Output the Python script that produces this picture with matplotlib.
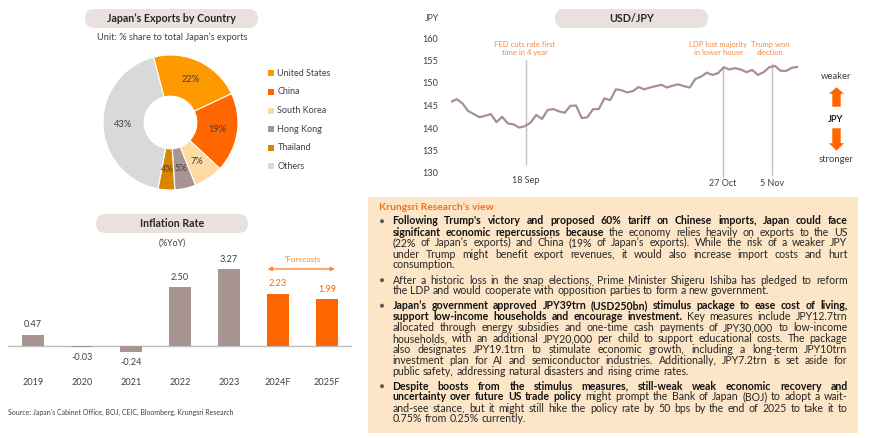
import matplotlib
matplotlib.use("Agg")
import matplotlib.pyplot as plt
from matplotlib.patches import FancyBboxPatch, Rectangle, Circle, FancyArrow

plt.rcParams["font.family"] = ["Lato", "DejaVu Sans"]

# ---- data ----
export_countries = ["United States", "China", "South Korea", "Hong Kong", "Thailand", "Others"]
export_share = [22, 19, 7, 5, 4, 43]
export_colors = ["#FF9900", "#FF6600", "#FFDBA3", "#A89494", "#D98500", "#D9D9D9"]

usdjpy = [145.8, 146.4, 145.5, 143.8, 143.1, 142.4, 142.7, 143.1, 141.3, 142.5,
          141.0, 140.8, 140.1, 140.4, 141.2, 142.9, 142.0, 144.0, 144.2, 143.7,
          143.4, 144.9, 145.0, 142.2, 142.4, 144.2, 144.2, 146.6, 146.2, 148.6,
          148.4, 147.9, 148.2, 149.1, 148.6, 149.0, 149.3, 149.6, 149.0, 149.4,
          149.7, 149.3, 149.0, 150.9, 151.4, 152.3, 151.8, 152.2, 153.5, 153.0,
          153.3, 153.0, 152.4, 152.9, 151.8, 152.4, 153.5, 153.8, 152.7, 152.7,
          153.4, 153.6]
event_dates = ["18 Sep", "27 Oct", "5 Nov"]
event_pos = [13.2, 47.85, 56.5]
event_notes = ["FED cuts rate first\ntime in 4 year", "LDP lost majority\nin lower house", "Trump won\nelection"]
note_pos = [13.0, 47.0, 56.1]

infl_years = ["2019", "2020", "2021", "2022", "2023", "2024F", "2025F"]
infl_values = [0.47, -0.03, -0.24, 2.50, 3.27, 2.23, 1.99]
infl_forecast = [False, False, False, False, False, True, True]

view_title = "Krungsri Research\u2019s view"
view_paras = [
    ["**Following Trump's victory and proposed 60% tariff on Chinese imports, Japan could face**",
     "**significant economic repercussions because** the economy relies heavily on exports to the US",
     "(22% of Japan\u2019s exports) and China (19% of Japan\u2019s exports). While the risk of a weaker JPY",
     "under Trump might benefit export revenues, it would also increase import costs and hurt",
     "consumption."],
    ["After a historic loss in the snap elections, Prime Minister Shigeru Ishiba has pledged to reform",
     "the LDP and would cooperate with opposition parties to form a new government."],
    ["**Japan\u2019s government approved JPY39trn (USD250bn) stimulus package to ease cost of living,**",
     "**support low-income households and encourage investment.** Key measures include JPY12.7trn",
     "allocated through energy subsidies and one-time cash payments of JPY30,000 to low-income",
     "households, with an additional JPY20,000 per child to support educational costs. The package",
     "also designates JPY19.1trn to stimulate economic growth, including a long-term JPY10trn",
     "investment plan for AI and semiconductor industries. Additionally, JPY7.2trn is set aside for",
     "public safety, addressing natural disasters and rising crime rates."],
    ["**Despite boosts from the stimulus measures, still-weak weak economic recovery and**",
     "**uncertainty over future US trade policy** might prompt the Bank of Japan (BOJ) to adopt a wait-",
     "and-see stance, but it might still hike the policy rate by 50 bps by the end of 2025 to take it to",
     "0.75% from 0.25% currently."],
]
para_baselines = [224.5, 283.5, 309.0, 389.5]

source = "Source: Japan\u2019s Cabinet Office, BOJ, CEIC, Bloomberg, Krungsri Research"

# ---- figure ----
W, H = 870, 438
fig = plt.figure(figsize=(W / 100, H / 100), dpi=100)
bg = fig.add_axes([0, 0, 1, 1])
bg.set_xlim(0, W)
bg.set_ylim(H, 0)
bg.axis("off")


def px_axes(x0, y0, x1, y1):
    a = fig.add_axes([x0 / W, 1 - y1 / H, (x1 - x0) / W, (y1 - y0) / H])
    a.patch.set_alpha(0)
    return a


def pill(xc, yc, w, h, label):
    bg.add_patch(FancyBboxPatch((xc - w / 2, yc - h / 2), w, h,
                                boxstyle=f"round,pad=0,rounding_size={h / 2}",
                                fc="#EAE0DE", ec="none"))
    bg.text(xc, yc, label, ha="center", va="center", fontsize=7.7,
            fontweight="bold", color="#262626")


dark = "#404040"
orange = "#FF6600"
note_orange = "#F7893F"

# exports donut
pill(171.5, 18.5, 173, 19, "Japan\u2019s Exports by Country")
bg.text(172, 37, "Unit: % share to total Japan\u2019s exports", ha="center", va="center",
        fontsize=6.7, color=dark)
pax = px_axes(103, 55, 238, 190)
pax.pie(export_share, colors=export_colors, startangle=104.5, counterclock=False,
        wedgeprops=dict(width=0.61, edgecolor="white", linewidth=0.8),
        autopct=lambda p: f"{p:.0f}%", pctdistance=0.7,
        textprops=dict(fontsize=6.7, color=dark))
pax.set_xlim(-1, 1)
pax.set_ylim(-1, 1)
for i, (name, col) in enumerate(zip(export_countries, export_colors)):
    y = 73.3 + i * 18.6
    bg.add_patch(Rectangle((268.5, y - 3), 6, 6, fc=col, ec="none"))
    bg.text(277.5, y, name, va="center", fontsize=6.5, color=dark)

# USD/JPY
pill(631.5, 18.5, 153, 19, "USD/JPY")
bg.text(432, 18.3, "JPY", ha="center", va="center", fontsize=6.3, color=dark)
lax = px_axes(451, 38, 797.7, 173)
lax.plot(range(len(usdjpy)), usdjpy, color="#A8908C", lw=1.6, zorder=3)
lax.set_xlim(0, len(usdjpy) - 1)
lax.set_ylim(130, 160)
lax.set_yticks(range(130, 161, 5))
lax.set_xticks([])
lax.tick_params(axis="y", length=0, pad=9.4, labelsize=6.6, labelcolor=dark)
for s in lax.spines.values():
    s.set_visible(False)
line_top = [155.1, 153.6, 154.4]
line_bot = [131.8, 128.9, 129.6]
label_y = [128.4, 127.6, 127.6]
for x, lo, hi, ly, d in zip(event_pos, line_bot, line_top, label_y, event_dates):
    lax.vlines(x, lo, hi, color="#C8BEBC", lw=1, clip_on=False, zorder=2)
    lax.text(x, ly, d, ha="center", va="center", fontsize=6.5, color=dark)
for x, n in zip(note_pos, event_notes):
    lax.text(x, 157.7, n, ha="center", va="center", fontsize=5.5, color=note_orange,
             linespacing=1.15)

bg.text(836, 76.7, "weaker", ha="center", va="center", fontsize=6.8, color=dark)
bg.text(836, 120, "JPY", ha="center", va="center", fontsize=6.6, fontweight="bold", color="#1a1a1a")
bg.text(836, 159.5, "stronger", ha="center", va="center", fontsize=6.8, color=dark)
bg.add_patch(FancyArrow(836.5, 106.7, 0, -19.4, width=8.4, head_width=15.3, head_length=6.5,
                        length_includes_head=True, fc=orange, ec="none"))
bg.add_patch(FancyArrow(836.5, 128.3, 0, 22.4, width=8.4, head_width=15.3, head_length=7.5,
                        length_includes_head=True, fc=orange, ec="none"))

# inflation bars
pill(172, 223.5, 152, 19, "Inflation Rate")
bg.text(172, 243, "(%YoY)", ha="center", va="center", fontsize=6.3, color=dark)
ppu = 23.5
bax = px_axes(8, 260, 352, 370)
bax.set_xlim(-0.51, 6.51)
bax.set_ylim(-(370 - 346) / ppu, (346 - 260) / ppu)
bar_cols = [orange if f else "#A89490" for f in infl_forecast]
bax.bar(range(len(infl_values)), infl_values, width=0.45, color=bar_cols, zorder=2)
bax.axhline(0, color="#BFBFBF", lw=1, zorder=1)
for i, (v, f) in enumerate(zip(infl_values, infl_forecast)):
    off = 10 if v >= 0 else -10.5
    bax.annotate(f"{v:.2f}", (i, v), xytext=(0, off), textcoords="offset pixels",
                 ha="center", va="center", fontsize=6.6,
                 color=orange if f else dark)
bax.set_xticks(range(len(infl_years)), infl_years)
bax.set_yticks([])
bax.tick_params(axis="x", length=0, pad=6.0, labelsize=6.6, labelcolor=dark)
for s in bax.spines.values():
    s.set_visible(False)
bax.annotate("", xy=(6.22, 3.28), xytext=(4.73, 3.28),
             arrowprops=dict(arrowstyle="<|-|>", color=note_orange, lw=1, mutation_scale=6),
             annotation_clip=False)
bax.text(5.49, (346 - 259) / ppu, "*Forecasts", ha="center", va="center", fontsize=5.8,
         color=note_orange)

bg.text(8, 412, source, ha="left", va="center", fontsize=5.0, color=dark)

# view box
bg.add_patch(Rectangle((368, 197), 490, 236, fc="#FDE6C8", ec="none"))
bg.text(379.3, 210.5, view_title, fontsize=7.4, fontweight="bold", color="#F2711C",
        va="baseline")

renderer = fig.canvas.get_renderer()


def tw(s, bold, fs):
    t = bg.text(0, 0, s, fontsize=fs, fontweight="bold" if bold else "normal")
    w = t.get_window_extent(renderer).width
    t.remove()
    return w


def tokens(line):
    out = []
    for k, seg in enumerate(line.split("**")):
        for w in seg.split():
            out.append((w, k % 2 == 1))
    return out


left, right = 392.5, 847.5
fs = 7.6
# shrink until every justified line fits with spaces squeezed to at most 55%
while True:
    sp = tw("x x", False, fs) - tw("xx", False, fs)
    widest = 0
    for para in view_paras:
        for ln in para[:-1]:
            tk = tokens(ln)
            widest = max(widest, sum(tw(w, b, fs) for w, b in tk) + 0.55 * sp * (len(tk) - 1))
    if widest <= right - left or fs < 5:
        break
    fs -= 0.1

for para, base in zip(view_paras, para_baselines):
    bg.add_patch(Circle((382, base - 3.3), 2.0, fc="#595959", ec="none"))
    for j, ln in enumerate(para):
        y = base + j * 11.0
        tk = tokens(ln)
        widths = [tw(w, b, fs) for w, b in tk]
        last = j == len(para) - 1
        gap = sp if last or len(tk) < 2 else (right - left - sum(widths)) / (len(tk) - 1)
        x = left
        for (w, b), wd in zip(tk, widths):
            bg.text(x, y, w, fontsize=fs, fontweight="bold" if b else "normal",
                    color="#111111" if b else "#262626", va="baseline")
            x += wd + gap

fig.savefig("out.png", dpi=100)
